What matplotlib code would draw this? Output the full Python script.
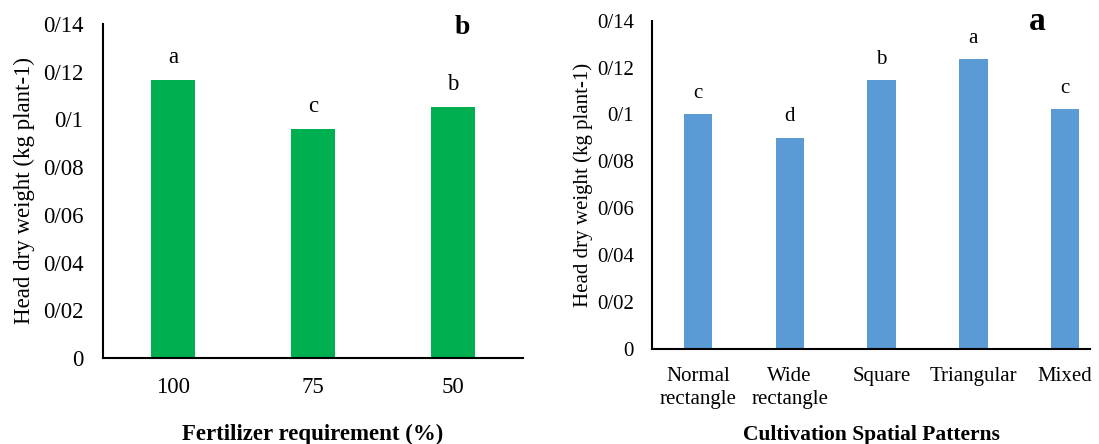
import numpy as np
import matplotlib
matplotlib.use("Agg")
import matplotlib.pyplot as plt

plt.rcParams['font.family'] = ['Liberation Serif', 'DejaVu Serif']

# panel b: fertilizer requirement
fert_levels = ['100', '75', '50']
fert_weight = [0.1165, 0.0960, 0.1052]
fert_letters = ['a', 'c', 'b']

# panel a: cultivation spatial patterns
patterns = ['Normal\nrectangle', 'Wide\nrectangle', 'Square', 'Triangular', 'Mixed']
pattern_weight = [0.1002, 0.0901, 0.1146, 0.1235, 0.1023]
pattern_letters = ['c', 'd', 'b', 'a', 'c']

ytick_vals = [0, 0.02, 0.04, 0.06, 0.08, 0.10, 0.12, 0.14]
ytick_labels = ['0', '0/02', '0/04', '0/06', '0/08', '0/1', '0/12', '0/14']

ylab = 'Head dry weight (kg plant-1)'

fig = plt.figure(figsize=(10.99, 4.44), dpi=100)
ax1 = fig.add_axes([0.0937, 0.1937, 0.3822, 0.7523])
ax2 = fig.add_axes([0.5933, 0.2140, 0.3985, 0.7394])


def style(ax, fs, ypad):
    for s in ['top', 'right']:
        ax.spines[s].set_visible(False)
    for s in ['left', 'bottom']:
        ax.spines[s].set_linewidth(1.5)
        ax.spines[s].set_color('black')
    ax.set_ylim(0, 0.14)
    ax.set_yticks(ytick_vals)
    ax.set_yticklabels(ytick_labels)
    ax.tick_params(axis='both', length=0, labelsize=fs)
    ax.tick_params(axis='y', pad=ypad)


# left panel
x1 = np.arange(len(fert_levels))
ax1.bar(x1, fert_weight, width=0.312, color='#00B050')
style(ax1, 16.5, 14)
ax1.tick_params(axis='x', pad=14)
ax1.set_xlim(-0.5, 2.5)
ax1.set_xticks(x1)
ax1.set_xticklabels(fert_levels)
for xi, v, t in zip(x1, fert_weight, fert_letters):
    ax1.annotate(t, (xi, v), xytext=(0, 16), textcoords='offset points',
                 ha='center', va='center', fontsize=16.5)
ax1.set_ylabel(ylab, fontsize=16.5, labelpad=6)
ax1.set_xlabel('Fertilizer requirement (%)', fontsize=16.5, fontweight='bold', labelpad=18)
fig.text(462 / 1099, 1 - 28 / 444, 'b', fontsize=20, fontweight='bold', ha='center', va='center')

# right panel
x2 = np.arange(len(patterns))
ax2.bar(x2, pattern_weight, width=0.31, color='#5B9BD5')
style(ax2, 15, 13)
ax2.set_xlim(-0.5, 4.271)
ax2.set_xticks(x2)
ax2.set_xticklabels(patterns, linespacing=1.25)
ax2.tick_params(axis='x', pad=13)
for xi, v, t in zip(x2, pattern_weight, pattern_letters):
    ax2.annotate(t, (xi, v), xytext=(0, 15), textcoords='offset points',
                 ha='center', va='center', fontsize=15)
ax2.set_ylabel(ylab, fontsize=15, labelpad=3)
ax2.set_xlabel('Cultivation Spatial Patterns', fontsize=15.5, fontweight='bold', labelpad=12)
fig.text(1037 / 1099, 1 - 22 / 444, 'a', fontsize=24, fontweight='bold', ha='center', va='center')

fig.savefig('out.png', dpi=100)
